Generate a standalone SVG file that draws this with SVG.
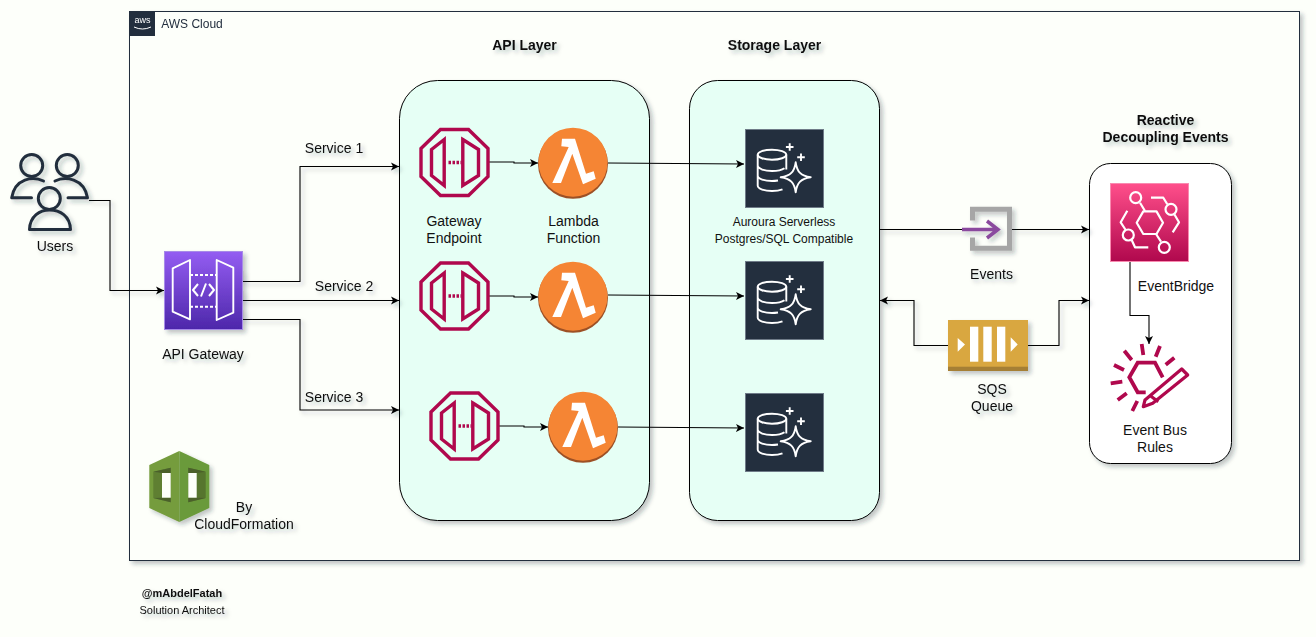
<svg xmlns="http://www.w3.org/2000/svg" width="1316" height="637" viewBox="0 0 1316 637">
<style>
text{font-family:"Liberation Sans",Arial,sans-serif;font-size:14px;fill:#111;text-anchor:middle}
.b{font-weight:bold}
.s12{font-size:12px}
.s11{font-size:11px}
.sh{filter:url(#sh)}
.box{stroke:#000;stroke-width:1}
.con{fill:none;stroke:#000;stroke-width:1.1}
.arr{marker-end:url(#a)}
.ep{fill:none;stroke:#B0084D;stroke-width:3.4}
.wl{fill:none;stroke:#fff;stroke-linejoin:round}
.rule{fill:none;stroke:#B0084D;stroke-width:3.8}
</style>
<defs>
<filter id="sh" x="-20%" y="-20%" width="150%" height="150%"><feDropShadow dx="3" dy="3" stdDeviation="2" flood-color="#1a2a3a" flood-opacity="0.28"/></filter>
<marker id="a" markerUnits="userSpaceOnUse" markerWidth="10" markerHeight="10" refX="8" refY="4.500" orient="auto"><path d="M0 0.500L8 4.500L0 8.500L2 4.500Z" fill="#000"/></marker>
<linearGradient id="gw" x1="0" y1="1" x2="0" y2="0"><stop offset="0" stop-color="#4D27AA"/><stop offset="1" stop-color="#945DF2"/></linearGradient>
<linearGradient id="eb" x1="0" y1="1" x2="0" y2="0"><stop offset="0" stop-color="#B0084D"/><stop offset="1" stop-color="#FF4F8B"/></linearGradient>
<g id="endpoint">
<path class="ep" d="M-14 -33H14L33.500 -14V14L14 33H-14L-33.500 14V-14Z"/>
<path class="ep" d="M-10.300 -23L-23 -13V13L-10.300 23ZM8.300 -23L24 -13V13L8.300 23Z"/>
<path class="ep" stroke-dasharray="2.500 1.500" d="M-6 0H7"/>
</g>
<g id="lambda">
<circle cy="0.800" r="35" fill="#9D5025"/>
<circle cy="-0.800" r="34.500" fill="#F58534"/>
<path fill="#fff" d="M-11 -24.300H2L13 10.700L20.700 8.300L22.700 15.700L10 21.300L-0.700 -9.300L-12 20H-20.700L-4.300 -16L-11.700 -16.700Z"/>
</g>
<g id="db">
<rect x="0.500" y="0.500" width="78" height="78" fill="#232F3E" stroke="#6F7B88"/>
<g class="wl" stroke-width="1.9">
<ellipse cx="27" cy="25.700" rx="14.300" ry="5"/>
<path d="M12.700 25.700V56.500C12.700 60 20 62 27 62C31 62 35 61.300 37.500 60.300M41.300 25.700V40.500M12.700 36.300C12.700 40 20 42 27 42C32 42 37 41 39.500 39.300M12.700 46.500C12.700 50 20 52 27 52C29 52 31 51.800 33 51.500"/>
<path d="M50.700 33.300C52 43 56 47 65.700 48.300C56 49.600 52 53.600 50.700 63.300C49.400 53.600 45.400 49.600 35.700 48.300C45.400 47 49.400 43 50.700 33.300Z"/>
<path d="M44.700 14.200V21.800M40.900 18H48.500M56 24.500V32.100M52.200 28.300H59.800"/>
</g>
</g>
</defs>
<rect width="1316" height="637" fill="#FDFFFA"/>

<g id="aws-cloud" class="sh">
<rect x="129.500" y="11.500" width="1170" height="549" fill="#FDFFFA" stroke="#232F3E"/>
<rect x="130" y="11" width="25" height="25" fill="#232F3E"/>
<text x="142.500" y="23" style="font-size:9px;fill:#fff">aws</text>
<path d="M134 27Q142.500 31 151 27" fill="none" stroke="#fff" stroke-width="1"/>
<text x="192" y="28" class="s12" style="fill:#232F3E">AWS Cloud</text>
</g>

<g id="api-layer" class="sh">
<rect class="box" x="399.500" y="80.500" width="250" height="440" rx="38" fill="#E6FFF5"/>
</g>
<g id="storage-layer" class="sh">
<rect class="box" x="689.500" y="80.500" width="190" height="440" rx="28" fill="#E6FFF5"/>
</g>
<g id="reactive" class="sh">
<rect class="box" x="1089.500" y="163.500" width="142" height="300" rx="21" fill="#fff"/>
</g>

<g id="connectors">
<g class="sh">
<path class="con arr" d="M89 200.500H110V290.500H164"/>
<path class="con arr" d="M242.500 271V281.500H300V166.500H399"/>
<path class="con arr" d="M242.500 291V300.500H399"/>
<path class="con arr" d="M242.500 310V319.500H300V410H399"/>
<path class="con" d="M880 229.500H962"/>
<path class="con arr" d="M1012 229.500H1089"/>
<path class="con arr" d="M948 345.500H914V300.500H880"/>
<path class="con arr" d="M1028 345.500H1059V300.500H1089"/>
</g>
<path class="con arr" d="M489 162H514V163H538"/>
<path class="con arr" d="M489 296H514V297H538"/>
<path class="con arr" d="M499 426H524V427H548"/>
<path class="con arr" d="M608 163L744 164"/>
<path class="con arr" d="M608 295L744 296"/>
<path class="con arr" d="M618 427L744 428"/>
<path class="con arr" d="M1130 261V315.500H1149V344"/>
</g>

<g id="users" class="sh">
<g fill="none" stroke="#232F3E" stroke-width="3" stroke-linecap="round" stroke-linejoin="round">
<circle cx="31.700" cy="165.500" r="11"/><circle cx="67.300" cy="165.500" r="11"/><circle cx="49.300" cy="198.500" r="11"/>
<path d="M43.500 181C33 176 15 178 11.700 197.700H31.500M55 181C65 176 84 178 87.500 197.700H68"/>
<path d="M29.500 229.500C30 216 40 210 49.500 210C60 210 70 216 70.500 229.500Z"/>
</g>
<text x="55" y="251">Users</text>
</g>

<g id="api-gateway" class="sh">
<rect x="164.500" y="251.500" width="78" height="78" fill="url(#gw)" stroke="#A78BE8" stroke-width="1"/>
<g class="wl" stroke-width="1.900">
<path d="M190 260L172.700 268.300V311.700L190 319.300ZM216.700 260L233.300 267.700V312.700L216.700 320Z"/>
<path stroke-dasharray="3 2" d="M190 275H216.500M190 306.700H216.500"/>
<path stroke-width="2" d="M198 284L193 290L198 296M209 284L214 290L209 296M201 296.500L206 283.500"/>
</g>
<text x="203" y="359">API Gateway</text>
</g>

<g id="endpoint-1"><use href="#endpoint" x="454.500" y="162.500"/><text x="454" y="226">Gateway</text><text x="454" y="243">Endpoint</text></g>
<g id="lambda-1"><use href="#lambda" x="573" y="163"/><text x="573.500" y="226">Lambda</text><text x="573.500" y="243">Function</text></g>
<g id="endpoint-2"><use href="#endpoint" x="454.500" y="296"/></g>
<g id="lambda-2"><use href="#lambda" x="573" y="297"/></g>
<g id="endpoint-3"><use href="#endpoint" x="464.500" y="426"/></g>
<g id="lambda-3"><use href="#lambda" x="583" y="427"/></g>

<g id="db-1"><use href="#db" x="745" y="129"/><text x="784" y="226" class="s12">Auroura Serverless</text><text x="784" y="243" class="s12">Postgres/SQL Compatible</text></g>
<g id="db-2"><use href="#db" x="745" y="261"/></g>
<g id="db-3"><use href="#db" x="745" y="393"/></g>

<g id="events" class="sh">
<path fill="none" stroke="#A6A6A6" stroke-width="5" d="M972.500 220.500V209.200H1009.500V248.200H972.500V237.500"/>
<path fill="none" stroke="#8A4A9E" stroke-width="3.500" d="M962 229.500H997M987 221L998 229.500L987 238"/>
<text x="991.500" y="279">Events</text>
</g>

<g id="sqs" class="sh">
<rect x="948" y="320" width="80" height="51" fill="#A57F35"/>
<rect x="948" y="320" width="80" height="46.700" fill="#D9A741"/>
<rect x="970" y="326.700" width="8.300" height="35" fill="#fff"/>
<rect x="983.300" y="326.700" width="8.400" height="35" fill="#fff"/>
<rect x="997" y="326.700" width="8.300" height="35" fill="#fff"/>
<path fill="#fff" d="M957.700 338L965 344.500L957.700 351.700ZM1010.700 337.300L1017.700 344.500L1010.700 351.700Z"/>
<text x="992" y="394">SQS</text><text x="992" y="411">Queue</text>
</g>

<g id="eventbridge">
<rect x="1110.500" y="183.500" width="78" height="78" fill="url(#eb)" stroke="#F98AB0"/>
<g class="wl" stroke-width="2.200">
<path d="M1136.700 222.700L1143.300 211.400H1156.500L1163 222.700L1156.500 234H1143.300Z"/>
<circle cx="1135.700" cy="197.700" r="5.500"/><circle cx="1171" cy="209.300" r="5.500"/><circle cx="1164.300" cy="247.300" r="5.500"/><circle cx="1128.300" cy="235" r="5.500"/>
<path d="M1140 202.700L1145 211M1156 234L1161 241.700M1151 197.700H1163.300L1167.300 204.300M1174.300 214.300L1179 222.300L1172.700 232.300M1127.300 210.700L1120.700 222.300L1125.700 230M1131.700 240L1135 247.300H1148.300"/>
</g>
<text x="1176" y="291">EventBridge</text>
</g>

<g id="event-bus-rules">
<path class="rule" d="M1162.700 377.300L1155 362.700H1137.700L1129.300 377.300L1137.700 392.300H1145.700"/>
<path class="rule" d="M1141.700 344L1143.300 355M1160 346L1155.700 356.700M1174.300 357.700L1165.700 364.700M1114 365L1124 370M1124.300 350.700L1131.700 360M1110.700 383.300L1122.300 381.700M1126.700 393.300L1117.700 400M1137.300 401L1132.300 411"/>
<path d="M1145 400L1181.700 369L1187.700 375L1152.700 403.300L1143.300 406.700ZM1149.300 395L1158.300 401.700" fill="none" stroke="#B0084D" stroke-width="3.200" stroke-linejoin="round"/>
<text x="1155" y="435">Event Bus</text><text x="1155" y="452">Rules</text>
</g>

<g id="cloudformation" class="sh">
<path fill="#759C3E" d="M179.300 451L149.300 465V508L179.300 522Z"/>
<path fill="#6B9A3A" d="M179.300 451L209.300 465V508L179.300 522Z"/>
<path fill="#5E7F33" d="M153.300 471.700L170.700 467.700V502.300L153.300 498Z"/>
<path fill="#56742E" d="M188.300 467.700L205.700 471.700V498L188.300 502.300Z"/>
<path fill="#4B612C" d="M153.300 471.700L170.700 467.700V473H162ZM153.300 498L162 497.700H170.700V502.300ZM188.300 467.700L205.700 471.700L196.700 473H188.300ZM188.300 497.700H196.700L205.700 498L188.300 502.300Z"/>
<rect x="162" y="473" width="8.700" height="24.700" fill="#FDFFFA"/>
<rect x="188.300" y="473" width="8.400" height="24.700" fill="#FDFFFA"/>
<text x="244" y="512">By</text><text x="244" y="529">CloudFormation</text>
</g>

<g id="labels" class="sh">
<text x="524.500" y="50" class="b">API Layer</text>
<text x="774.500" y="50" class="b">Storage Layer</text>
<text x="1165.500" y="125" class="b">Reactive</text>
<text x="1165.500" y="142" class="b">Decoupling Events</text>
<text x="334" y="153">Service 1</text>
<text x="344" y="291">Service 2</text>
<text x="334" y="402">Service 3</text>
<text x="182" y="597" class="b s11">@mAbdelFatah</text>
<text x="182" y="614" class="s11">Solution Architect</text>
</g>
</svg>
